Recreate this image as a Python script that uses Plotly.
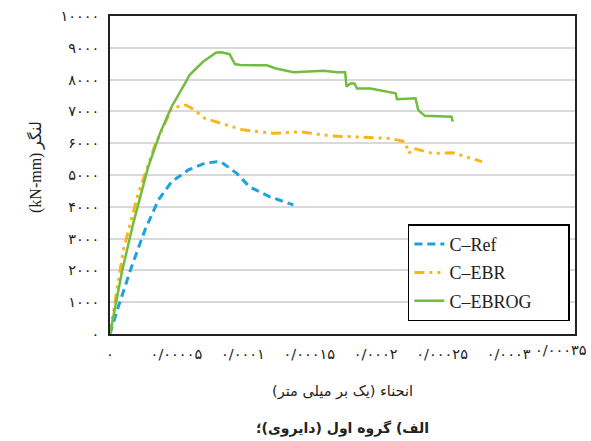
import plotly.graph_objects as go

NBSP = "\u00a0"

# ---- data (curvature in 1e-5 1/mm, moment in kN-mm) ----
ref_x = [0, 0.63, 1.63, 2.63, 3.64, 4.64, 5.9, 7.15, 8.03, 8.4, 9.54, 10.5, 12.0, 13.8]
ref_y = [0, 860, 2120, 3270, 4210, 4790, 5160, 5370, 5420, 5400, 5050, 4630, 4320, 4060]

ebr_x = [0, 1.0, 2.13, 3.39, 4.64, 5.1, 5.7, 6.15, 6.8, 7.15, 8.4, 10.0, 12.3, 14.3,
         16.6, 18.8, 21.1, 22.2, 22.5, 22.8, 24.3, 25.8, 26.8, 28.0]
ebr_y = [0, 2640, 4420, 5940, 7100, 7150, 7200, 7100, 6890, 6780, 6620, 6420, 6310, 6360,
         6230, 6190, 6150, 6050, 5680, 5840, 5680, 5700, 5580, 5420]

ebrog_x = [0, 0.9, 1.75, 2.88, 3.76, 4.64, 5.4, 6.0, 7.0, 8.0, 8.4, 9.0, 9.4, 9.8, 11.8,
           12.5, 13.8, 16.1, 17.1, 17.7, 17.8, 18.1, 18.4, 18.6, 19.6, 20.9, 21.5, 21.6,
           23.0, 23.2, 23.7, 25.7, 25.8]
ebrog_y = [0, 1960, 3480, 5260, 6310, 7150, 7700, 8150, 8560, 8850, 8860, 8800, 8490, 8460, 8450,
           8350, 8230, 8280, 8230, 8230, 7780, 7880, 7880, 7720, 7720, 7620, 7570, 7380,
           7410, 7040, 6860, 6830, 6680]

series_names = ["C–Ref", "C–EBR", "C–EBROG"]

x_tickvals = [0, 0.00005, 0.0001, 0.00015, 0.0002, 0.00025, 0.0003, 0.00035]
x_ticktext = ["۰", "۰/۰۰۰۰۵", "۰/۰۰۰۱", "۰/۰۰۰۱۵", "۰/۰۰۰۲", "۰/۰۰۰۲۵", "۰/۰۰۰۳", "۰/۰۰۰۳۵"]
y_tickvals = [0, 1000, 2000, 3000, 4000, 5000, 6000, 7000, 8000, 9000, 10000]
y_ticktext = ["۰", "۱۰۰۰", "۲۰۰۰", "۳۰۰۰", "۴۰۰۰", "۵۰۰۰", "۶۰۰۰", "۷۰۰۰", "۸۰۰۰", "۹۰۰۰", "۱۰۰۰۰"]

xtitle = "انحناء (یک بر میلی متر)"
caption = "الف) گروه اول (دایروی)؛"
ytitle = "(kN-mm) لنگر"

def sc(v):
    return [a * 1e-5 for a in v]

pad = NBSP * 7
fig = go.Figure()
fig.add_trace(go.Scatter(x=sc(ref_x), y=ref_y, mode="lines", name=series_names[0] + pad,
                         legendgroup="a",
                         line=dict(color="#1aa3dd", width=3, dash="8px,5px")))
fig.add_trace(go.Scatter(x=sc(ebr_x), y=ebr_y, mode="lines", name=series_names[1] + pad,
                         legendgroup="b",
                         line=dict(color="#fbb615", width=3, dash="10px,5px,3px,5px,3px,5px")))
fig.add_trace(go.Scatter(x=sc(ebrog_x), y=ebrog_y, mode="lines", name=series_names[2] + pad,
                         legendgroup="c",
                         line=dict(color="#72bc44", width=2.5)))

tickfont = dict(family="DejaVu Sans", size=14.5, color="#222")

fig.update_layout(
    width=591, height=441,
    margin=dict(l=110, r=16, t=16, b=107),
    paper_bgcolor="white", plot_bgcolor="white",
    showlegend=True,
    legend=dict(x=0.989, y=0.345, xanchor="right", yanchor="top",
                bordercolor="black", borderwidth=1.5, bgcolor="white",
                font=dict(family="Liberation Serif", size=18, color="#222"),
                tracegroupgap=2, itemwidth=30),
    xaxis=dict(range=[0, 0.00035], tickvals=x_tickvals[:-1], ticktext=x_ticktext[:-1],
               showgrid=False, zeroline=False, showline=True, mirror=True,
               linecolor="#222", linewidth=1.5, ticks="", tickfont=tickfont,
               ticklabelstandoff=6, tickangle=0, automargin=False),
    yaxis=dict(range=[0, 10000], tickvals=y_tickvals, ticktext=y_ticktext,
               showgrid=True, gridcolor="#d9d9d9", gridwidth=1.5, zeroline=False,
               showline=True, mirror=True, linecolor="#222", linewidth=1.5,
               ticks="", tickfont=tickfont, ticklabelstandoff=6, automargin=False),
)

# last x tick label, pulled inside the page edge as in the source
fig.add_annotation(text=x_ticktext[-1], xref="x", yref="paper", x=x_tickvals[-1],
                   xshift=14, y=0, yshift=-6, xanchor="right", yanchor="top",
                   showarrow=False, font=tickfont)

fig.add_annotation(text=xtitle, xref="paper", yref="paper", x=0.5,
                   y=-(391 - 334) / 318, xanchor="center", yanchor="middle", showarrow=False,
                   font=dict(family="DejaVu Sans", size=14.5, color="#222"))
fig.add_annotation(text="<b>" + caption + "</b>", xref="paper", yref="paper", x=0.5,
                   y=-(428 - 334) / 318, xanchor="center", yanchor="middle", showarrow=False,
                   font=dict(family="DejaVu Sans", size=14, color="#222"))
fig.add_annotation(text=ytitle, xref="paper", yref="paper", x=-(110 - 35) / 465,
                   y=(334 - 167) / 318, xanchor="center", yanchor="middle", showarrow=False,
                   textangle=-90, font=dict(family="Liberation Serif", size=16, color="#222"))

fig.write_html("out.html", post_script="document.body.style.margin='0';",
               config={"displayModeBar": False})
